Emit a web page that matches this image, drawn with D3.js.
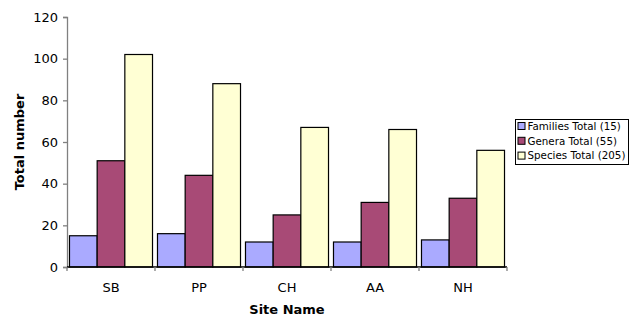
<!DOCTYPE html>
<html>
<head>
<meta charset="utf-8">
<script src="https://cdn.jsdelivr.net/npm/d3@7"></script>
<style>
  html, body { margin: 0; padding: 0; background: #fff; }
  svg { display: block; font-family: Verdana, "DejaVu Sans", sans-serif; }
</style>
</head>
<body>
<svg id="chart" width="629" height="320"></svg>
<script>
// Site names along the x axis
const sites = ["SB", "PP", "CH", "AA", "NH"];
// Series shown in the legend
const seriesNames = ["Families Total (15)", "Genera Total (55)", "Species Total (205)"];
// Counts per site for each series
const families = [15, 16, 12, 12, 13];
const genera = [51, 44, 25, 31, 33];
const species = [102, 88, 67, 66, 56];
// Y axis ticks
const yTicks = [0, 20, 40, 60, 80, 100, 120];

const seriesValues = [families, genera, species];
const colors = ["#aaaaff", "#a84a76", "#ffffd4"];

const svg = d3.select("#chart");
const plot = { left: 67, right: 507, top: 17, bottom: 267 };

const x = d3.scaleBand().domain(sites).range([plot.left, plot.right]).paddingInner(0).paddingOuter(0);
const xInner = d3.scaleBand().domain(d3.range(seriesNames.length))
  .range([0, x.bandwidth()]).paddingOuter(0.09).paddingInner(0);
const y = d3.scaleLinear().domain([0, 120]).range([plot.bottom, plot.top]);

// Bars
const groups = svg.append("g").selectAll("g").data(sites).join("g")
  .attr("transform", d => `translate(${x(d)},0)`);
groups.selectAll("rect")
  .data((site, i) => seriesValues.map((vals, s) => ({ s, v: vals[i] })))
  .join("rect")
  .attr("x", d => xInner(d.s))
  .attr("width", xInner.bandwidth())
  .attr("y", d => y(d.v))
  .attr("height", d => y(0) - y(d.v))
  .attr("fill", d => colors[d.s])
  .attr("stroke", "#000")
  .attr("stroke-width", 1.2);

// Y axis
const yAxis = svg.append("g")
  .attr("transform", `translate(${plot.left},0)`)
  .call(d3.axisLeft(y).tickValues(yTicks).tickSize(4).tickPadding(5));
yAxis.select(".domain").attr("stroke", "#808080").attr("stroke-width", 1.3);
yAxis.selectAll(".tick line").attr("stroke", "#808080").attr("stroke-width", 1.3);
yAxis.selectAll("text").attr("font-size", 13).attr("fill", "#000")
  .attr("font-family", "Verdana, 'DejaVu Sans', sans-serif");

// X axis: ticks sit at the category boundaries
const xAxisG = svg.append("g").attr("transform", `translate(0,${plot.bottom})`);
xAxisG.append("line")
  .attr("x1", plot.left).attr("x2", plot.right)
  .attr("stroke", "#000").attr("stroke-width", 1.3);
const boundaries = sites.map(d => x(d)).concat([plot.right]);
xAxisG.selectAll("line.tick").data(boundaries).join("line")
  .attr("class", "tick")
  .attr("x1", d => d).attr("x2", d => d)
  .attr("y1", 0).attr("y2", 4)
  .attr("stroke", "#808080").attr("stroke-width", 1.3);
xAxisG.selectAll("text").data(sites).join("text")
  .attr("x", d => x(d) + x.bandwidth() / 2)
  .attr("y", 25)
  .attr("text-anchor", "middle")
  .attr("font-size", 13)
  .text(d => d);

// Axis titles
svg.append("text")
  .attr("x", (plot.left + plot.right) / 2).attr("y", 314)
  .attr("text-anchor", "middle").attr("font-size", 13).attr("font-weight", "bold")
  .text("Site Name");
svg.append("text")
  .attr("transform", `translate(24,${(plot.top + plot.bottom) / 2}) rotate(-90)`)
  .attr("text-anchor", "middle").attr("font-size", 13).attr("font-weight", "bold")
  .text("Total number");

// Legend
const legend = svg.append("g").attr("transform", "translate(515.5,119.5)");
legend.append("rect")
  .attr("width", 113).attr("height", 45)
  .attr("fill", "#fff").attr("stroke", "#000").attr("stroke-width", 1);
const items = legend.selectAll("g.item").data(seriesNames).join("g")
  .attr("class", "item")
  .attr("transform", (d, i) => `translate(2.5,${6.5 + i * 14.8})`);
items.append("rect")
  .attr("x", 0).attr("y", -3.5).attr("width", 7).attr("height", 7)
  .attr("fill", (d, i) => colors[i]).attr("stroke", "#000").attr("stroke-width", 1);
items.append("text")
  .attr("x", 9.5).attr("y", 3.7)
  .attr("font-size", 10.3)
  .text(d => d);
</script>
</body>
</html>
